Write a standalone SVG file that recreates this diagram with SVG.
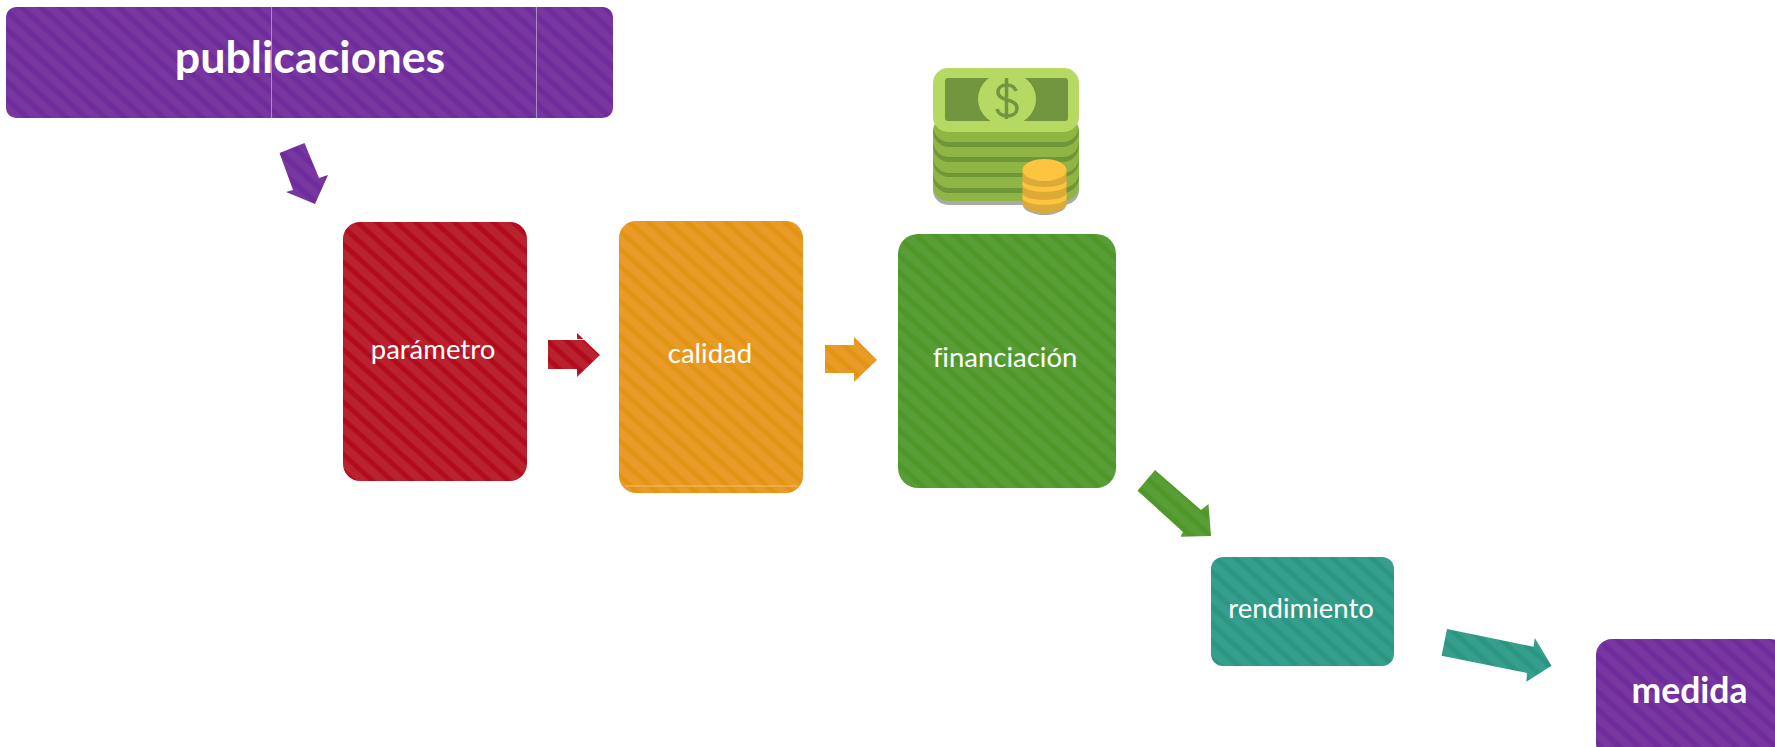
<svg xmlns="http://www.w3.org/2000/svg" width="1775" height="747" viewBox="0 0 1775 747">
<style>
.t{font-family:"Lato","Liberation Sans",sans-serif;fill:#fff;text-anchor:middle;font-variant-ligatures:none}
.n{font-size:27.500px}
.b{font-weight:700}
</style>
<defs>
<pattern id="pP" width="13" height="13" patternUnits="userSpaceOnUse" patternTransform="rotate(42)"><rect width="13" height="13" fill="#7836a0"/><rect y="1" width="13" height="6" fill="#732f9e"/><rect y="2" width="13" height="4" fill="#6e2c9c"/></pattern>
<pattern id="pR" width="13" height="13" patternUnits="userSpaceOnUse" patternTransform="rotate(42)"><rect width="13" height="13" fill="#b9232f"/><rect y="1" width="13" height="6" fill="#b61726"/><rect y="2" width="13" height="4" fill="#b20c1c"/></pattern>
<pattern id="pO" width="13" height="13" patternUnits="userSpaceOnUse" patternTransform="rotate(42)"><rect width="13" height="13" fill="#e99b28"/><rect y="1" width="13" height="6" fill="#e6981e"/><rect y="2" width="13" height="4" fill="#e39413"/></pattern>
<pattern id="pG" width="13" height="13" patternUnits="userSpaceOnUse" patternTransform="rotate(42)"><rect width="13" height="13" fill="#589d36"/><rect y="1" width="13" height="6" fill="#539a2f"/><rect y="2" width="13" height="4" fill="#4f9729"/></pattern>
<pattern id="pT" width="13" height="13" patternUnits="userSpaceOnUse" patternTransform="rotate(42)"><rect width="13" height="13" fill="#369e8c"/><rect y="1" width="13" height="6" fill="#319a87"/><rect y="2" width="13" height="4" fill="#2b9681"/></pattern>
</defs>
<rect width="1775" height="747" fill="#fff"/>
<g id="publicaciones">
<rect x="6" y="7" width="607" height="111" rx="10" fill="url(#pP)"/>
<path d="M271.500 7V118M536.500 7V118" stroke="#a98ac2" stroke-width="1" fill="none"/>
<text class="t b" x="310" y="73" font-size="44.800">publicaciones</text>
</g>
<g id="parametro">
<rect x="343" y="222" width="184" height="259" rx="17" fill="url(#pR)"/>
<text class="t n" x="433" y="359">parámetro</text>
</g>
<g id="calidad">
<rect x="619" y="221" width="184" height="272" rx="17" fill="url(#pO)"/>
<path d="M625 486H797" stroke="#f0bd74" stroke-width="1"/>
<text class="t n" x="710" y="363">calidad</text>
</g>
<g id="financiacion">
<rect x="898" y="234" width="218" height="254" rx="20" fill="url(#pG)"/>
<text class="t n" x="1005" y="367">financiación</text>
</g>
<g id="rendimiento">
<rect x="1211" y="557" width="183" height="109" rx="12" fill="url(#pT)"/>
<text class="t n" x="1301" y="618">rendimiento</text>
</g>
<g id="medida">
<rect x="1596" y="639" width="190" height="120" rx="16" fill="url(#pP)"/>
<text class="t b" x="1689.500" y="703" font-size="35.500">medida</text>
</g>
<g id="money">
<rect x="933" y="130" width="146" height="75" rx="15" fill="#a9aca6"/>
<rect x="933" y="116" width="146" height="85" rx="15" fill="#8fb544"/>
<path d="M933 126a16 16 0 0 0 16 16H1063a16 16 0 0 0 16-16v5a16 16 0 0 1-16 16H949a16 16 0 0 1-16-16z" fill="#6f963b"/>
<path d="M933 141a16 16 0 0 0 16 16H1063a16 16 0 0 0 16-16v5a16 16 0 0 1-16 16H949a16 16 0 0 1-16-16z" fill="#6f963b"/>
<path d="M933 157a16 16 0 0 0 16 16H1063a16 16 0 0 0 16-16v4a16 16 0 0 1-16 16H949a16 16 0 0 1-16-16z" fill="#6f963b"/>
<path d="M933 172a16 16 0 0 0 16 16H1063a16 16 0 0 0 16-16v5a16 16 0 0 1-16 16H949a16 16 0 0 1-16-16z" fill="#6f963b"/>
<rect x="933" y="68" width="146" height="64" rx="15" fill="#b5d963"/>
<rect x="945" y="78" width="123" height="43" rx="3" fill="#72963f"/>
<ellipse cx="1007" cy="99" rx="29" ry="27" fill="#b5d963"/>
<path d="M1016 91c-1-4-5-6-9-6-6 0-9 3-9 7 0 10 19 6 19 16 0 5-4 8-10 8-5 0-9-3-10-7M1006.500 78v41" fill="none" stroke="#72963f" stroke-width="3.500"/>
<ellipse cx="1044.500" cy="204" rx="22" ry="11" fill="#a9aca6"/>
<path d="M1022.500 170v33a22 10 0 0 0 44 0v-33z" fill="#dcaa36"/>
<path d="M1022.500 180a22 7 0 0 0 44 0v5a22 7 0 0 1-44 0zM1022.500 193a22 7 0 0 0 44 0v5a22 7 0 0 1-44 0z" fill="#fcc43f"/>
<ellipse cx="1044.500" cy="170" rx="22" ry="11" fill="#fcc43f"/>
</g>
<g id="connectors">
<polygon points="304.500,143 279.500,153 293,190 286,192 315,204 328,175 319,178" fill="url(#pP)"/>
<polygon points="548,340 577,340 577,333 600,355 577,377 577,369 548,369" fill="url(#pR)"/>
<path d="M577 339.500H586" stroke="#fff" stroke-width="1"/>
<polygon points="825,345 854,345 854,337 877,360 854,382 854,373 825,373" fill="url(#pO)"/>
<polygon points="1155,470 1137.500,490.700 1183,532 1180.500,536.700 1211,536 1208.500,504 1201,510" fill="url(#pG)"/>
<polygon points="1447,629 1441.600,655.700 1527,673 1526.400,681.700 1551.500,665.700 1534.800,638 1533.500,646.700" fill="url(#pT)"/>
</g>
</svg>
